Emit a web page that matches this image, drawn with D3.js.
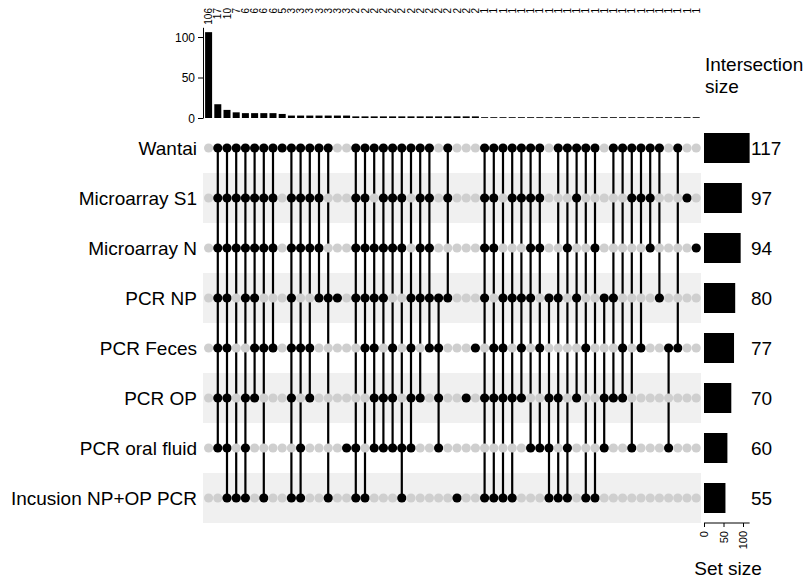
<!DOCTYPE html>
<html lang="en">
  <head>
    <meta charset="utf-8">
    <title>UpSet</title>
    <script type="text/javascript" src="https://d3js.org/d3.v7.min.js"></script>
    <style type="text/css">
      body {
      margin: 0;
      background: #fff;
      }
      svg text {
      font-family: "Liberation Sans", Arial, sans-serif;
      fill: #000;
      }
      .axis path,
      .axis line {
      stroke: #000;
      }
    </style>
  </head>
  <body>
    <script type="text/javascript">
      var sets = ["Wantai", "Microarray S1", "Microarray N", "PCR NP", "PCR Feces", "PCR OP", "PCR oral fluid", "Incusion NP+OP PCR"];
      var setSizes = [117, 97, 94, 80, 77, 70, 60, 55];

      // intersection sizes, in plotted order
      var freq = [106, 17, 10, 7, 6, 6, 6, 6, 5,
        3, 3, 3, 3, 3, 3, 3,
        2, 2, 2, 2, 2, 2, 2, 2, 2, 2, 2, 2, 2, 2,
        1, 1, 1, 1, 1, 1, 1, 1, 1, 1, 1, 1, 1, 1, 1, 1, 1, 1, 1, 1, 1, 1, 1, 1];

      // which sets (index into sets) each intersection holds
      var members = [
        [], [0,1,2,3,4,5,6], [0,1,2,3,4,5,6,7], [0,1,2,7], [0,1,2,3,5,6,7],
        [0,1,2,3,4,5], [0,1,2,4,7], [0,1,2,4], [0], [0,1,2,3,4,5,7],
        [0,1,2,4,6,7], [0,1,2,4,5], [0,1,2,3], [0,3,7], [3],
        [6], [0,1,2,3,6,7], [0,1,2,3,4,7], [0,2,3,4,5,6], [0,1,2,3,5,6],
        [0,1,2,4,5,6], [0,1,2,6,7], [0,3,4,5,6], [0,1,2,3,5], [0,1,2,3,4],
        [3,4,5,6], [0,1,3], [7], [5], [4],
        [0,1,2,3,5,7], [0,1,2,4,5,7], [0,3,4,5,7], [0,1,3,5,7], [0,1,3,4,5],
        [0,1,2,3,6], [0,1,2,4,6], [3,5,6,7], [0,3,5,7], [0,2,6,7],
        [0,1,3,5], [0,4,7], [0,2,7], [3,5,6], [0,3,5],
        [0,4,5], [0,1,6], [0,1,4], [0,1,2], [0,3],
        [4,6], [0,4], [1], [2]
      ];

      var width = 810, height = 581;
      var barW = 7, dotR = 4.6, rowH = 50;

      var svg = d3.select("body").append("svg")
      .attr("width", width)
      .attr("height", height);

      var x = d3.scalePoint()
      .domain(d3.range(freq.length))
      .range([208.6, 696.2]);

      var y = d3.scalePoint()
      .domain(d3.range(sets.length))
      .range([148, 498]);

      var yBar = d3.scaleLinear()
      .domain([0, 112])
      .range([118, 27.3]);

      var xSet = d3.scaleLinear()
      .domain([0, 100])
      .range([704, 743]);

      // stripes behind every second row
      svg.selectAll(".stripe")
      .data(d3.range(sets.length).filter(function(i){ return i % 2 == 1; }))
      .enter().append("rect")
      .attr("class", "stripe")
      .attr("x", 203)
      .attr("width", 498)
      .attr("y", function(i){ return y(i) - rowH / 2; })
      .attr("height", rowH)
      .attr("fill", "#f0f0f0");

      // intersection size bars
      svg.selectAll(".ibar")
      .data(freq)
      .enter().append("rect")
      .attr("class", "ibar")
      .attr("x", function(d, i){ return x(i) - barW / 2; })
      .attr("width", barW)
      .attr("y", function(d){ return yBar(d); })
      .attr("height", function(d){ return yBar(0) - yBar(d); })
      .attr("fill", "#000");

      svg.selectAll(".ilab")
      .data(freq)
      .enter().append("text")
      .attr("class", "ilab")
      .attr("transform", function(d, i){ return "translate(" + (x(i) + 3.5) + ",8) rotate(-90)"; })
      .attr("text-anchor", "end")
      .style("font-size", "10px")
      .text(function(d){ return d; });

      var yAxis = d3.axisLeft(yBar).tickValues([0, 50, 100]).tickSize(5).tickSizeOuter(0);
      var gy = svg.append("g")
      .attr("class", "axis")
      .attr("transform", "translate(203,0)")
      .call(yAxis);
      gy.selectAll("text").style("font-size", "12px").attr("dy", "0.35em");

      svg.append("text")
      .attr("x", 705).attr("y", 71)
      .style("font-size", "19px")
      .text("Intersection");
      svg.append("text")
      .attr("x", 705).attr("y", 93)
      .style("font-size", "19px")
      .text("size");

      // matrix
      var col = svg.selectAll(".col")
      .data(members)
      .enter().append("g")
      .attr("class", "col")
      .attr("transform", function(d, i){ return "translate(" + x(i) + ",0)"; });

      col.filter(function(d){ return d.length > 1; })
      .append("line")
      .attr("y1", function(d){ return y(d3.min(d)); })
      .attr("y2", function(d){ return y(d3.max(d)); })
      .attr("stroke", "#000")
      .attr("stroke-width", 2.2);

      col.selectAll("circle")
      .data(function(d){ return d3.range(sets.length).map(function(s){ return {s: s, on: d.indexOf(s) >= 0}; }); })
      .enter().append("circle")
      .attr("cy", function(p){ return y(p.s); })
      .attr("r", dotR)
      .attr("fill", function(p){ return p.on ? "#000" : "#cfcfcf"; });

      // set names
      svg.selectAll(".slab")
      .data(sets)
      .enter().append("text")
      .attr("class", "slab")
      .attr("x", 197)
      .attr("y", function(d, i){ return y(i) + 6.5; })
      .attr("text-anchor", "end")
      .style("font-size", "19px")
      .text(function(d){ return d; });

      // set size bars
      svg.selectAll(".sbar")
      .data(setSizes)
      .enter().append("rect")
      .attr("class", "sbar")
      .attr("x", xSet(0))
      .attr("width", function(d){ return xSet(d) - xSet(0); })
      .attr("y", function(d, i){ return y(i) - 15; })
      .attr("height", 30)
      .attr("fill", "#000");

      svg.selectAll(".svlab")
      .data(setSizes)
      .enter().append("text")
      .attr("class", "svlab")
      .attr("x", 751)
      .attr("y", function(d, i){ return y(i) + 6.5; })
      .style("font-size", "19px")
      .text(function(d){ return d; });

      var xAxis = d3.axisBottom(xSet).tickValues([0, 50, 100]).tickSize(4).tickSizeOuter(0);
      var gx = svg.append("g")
      .attr("class", "axis")
      .attr("transform", "translate(0,523)")
      .call(xAxis);
      gx.select(".domain").attr("d", "M" + xSet(0) + ",0H" + xSet(117));
      gx.selectAll("text")
      .style("font-size", "11px")
      .attr("text-anchor", "end")
      .attr("transform", "rotate(-90)")
      .attr("x", -8)
      .attr("y", 0)
      .attr("dy", "0.35em");

      svg.append("text")
      .attr("x", 728).attr("y", 575)
      .attr("text-anchor", "middle")
      .style("font-size", "19px")
      .text("Set size");
    </script>
  </body>
</html>
